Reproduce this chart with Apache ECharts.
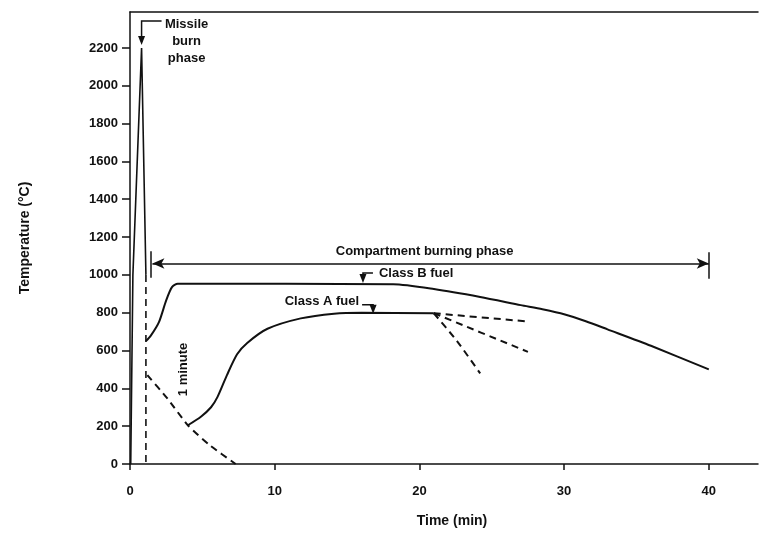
<!DOCTYPE html>
<html>
<head>
    <meta charset="utf-8">
    <script type="text/javascript" src="https://cdn.jsdelivr.net/npm/echarts@6/dist/echarts.min.js"></script>
    <style>
        body { margin: 0; background: #fff; }
    </style>
</head>
<body>
<div id="main" style="width:760px;height:535px"></div>
<script type="text/javascript">
    // values: time in min, temperature in degC
    var spikeTime = [0.05, 0.2, 0.8, 1.1];
    var spikeTemp = [0, 1000, 2200, 1000];

    var oneMinTime = [1.1, 1.1];
    var oneMinTemp = [1000, 0];

    var coolTime = [1.2, 2.6, 4.0, 5.5, 7.3];
    var coolTemp = [470, 345, 205, 100, 0];

    var classBTime = [1.1, 1.45, 2.0, 2.5, 2.9, 3.3, 18.2, 21, 24.2, 27, 28.5, 30, 31.5, 33, 36, 40];
    var classBTemp = [650, 680, 750, 865, 935, 953, 950, 925, 883, 840, 818, 792, 755, 712, 625, 500];

    var classATime = [4.0, 4.9, 5.6, 6.05, 6.7, 7.4, 8.1, 9.5, 11.8, 14.1, 16, 21];
    var classATemp = [205, 250, 300, 355, 470, 580, 640, 715, 770, 795, 800, 797];

    // dashed branches after the Class A plateau
    var branch1Time = [21, 27.3];
    var branch1Temp = [797, 755];
    var branch2Time = [21, 27.5];
    var branch2Temp = [797, 593];
    var branch3Time = [21, 22.6, 24.2];
    var branch3Temp = [797, 650, 479];

    var phaseStart = 1.55, phaseEnd = 40, phaseTemp = 1060;

    var xTicks = [0, 10, 20, 30, 40];

    function pairs(xs, ys) {
        var out = [];
        for (var i = 0; i < xs.length; i++) {
            out.push([xs[i], ys[i]]);
        }
        return out;
    }

    var ink = '#111';
    var font = '"Liberation Sans", Arial, sans-serif';

    function solid(data) {
        return {
            type: 'line', data: data, symbol: 'none', smooth: 0.25, silent: true,
            lineStyle: {color: ink, width: 2}
        };
    }
    function dashed(data) {
        return {
            type: 'line', data: data, symbol: 'none', smooth: 0.2, silent: true,
            lineStyle: {color: ink, width: 2, type: [7, 5]}
        };
    }

    var myChart = echarts.init(document.getElementById('main'));
    var spike = solid(pairs(spikeTime, spikeTemp));
    spike.smooth = false;
    spike.lineStyle.width = 1.6;
    var oneMin = dashed(pairs(oneMinTime, oneMinTemp));
    oneMin.lineStyle.width = 1.6;
    oneMin.smooth = false;

    var classB = solid(pairs(classBTime, classBTemp));
    // compartment burning phase arrow + end bars
    classB.markLine = {
        silent: true,
        symbol: ['arrow', 'arrow'],
        symbolSize: [8, 12],
        label: {show: false},
        lineStyle: {color: ink, width: 1.5, type: 'solid'},
        data: [
            [{coord: [phaseStart, phaseTemp]}, {coord: [phaseEnd, phaseTemp]}],
            [{coord: [phaseStart - 0.1, 985], symbol: 'none'}, {coord: [phaseStart - 0.1, 1125], symbol: 'none'}],
            [{coord: [phaseEnd, 980], symbol: 'none'}, {coord: [phaseEnd, 1120], symbol: 'none'}]
        ]
    };

    var option = {
        animation: false,
        backgroundColor: '#fff',
        textStyle: {fontFamily: font},
        grid: {left: 130, right: 2, top: 12, bottom: 71},
        xAxis: [{
            type: 'value', min: 0, max: 43.4, interval: 10,
            name: 'Time (min)', nameLocation: 'middle', nameGap: 50,
            nameTextStyle: {color: ink, fontSize: 14, fontWeight: 'bold', fontFamily: font, padding: [0, 0, 0, 16]},
            axisLine: {lineStyle: {color: ink, width: 1.5}},
            axisTick: {length: 6, lineStyle: {color: ink, width: 1.5}},
            axisLabel: {
                color: ink, fontSize: 13, fontWeight: 'bold', fontFamily: font, margin: 21,
                showMaxLabel: false,
                formatter: function (v) { return xTicks.indexOf(v) >= 0 ? String(v) : ''; }
            },
            splitLine: {show: false}
        }, {
            type: 'value', position: 'top', min: 0, max: 43.4,
            axisLine: {show: true, lineStyle: {color: ink, width: 1.5}},
            axisTick: {show: false}, axisLabel: {show: false}, splitLine: {show: false}
        }],
        yAxis: {
            type: 'value', min: 0, max: 2390, interval: 200,
            name: 'Temperature (°C)', nameLocation: 'middle', nameGap: 98,
            nameTextStyle: {color: ink, fontSize: 14, fontWeight: 'bold', fontFamily: font},
            axisLine: {show: true, lineStyle: {color: ink, width: 1.5}},
            axisTick: {show: true, length: 8, lineStyle: {color: ink, width: 1.5}},
            axisLabel: {
                color: ink, fontSize: 13, fontWeight: 'bold', fontFamily: font, margin: 12,
                showMaxLabel: false,
                formatter: function (v) { return String(v); }
            },
            splitLine: {show: false}
        },
        series: [
            spike,
            oneMin,
            dashed(pairs(coolTime, coolTemp)),
            classB,
            solid(pairs(classATime, classATemp)),
            dashed(pairs(branch1Time, branch1Temp)),
            dashed(pairs(branch2Time, branch2Temp)),
            dashed(pairs(branch3Time, branch3Temp))
        ]
    };
    myChart.setOption(option);

    // annotations placed from data coordinates
    function px(t, v) {
        return myChart.convertToPixel({gridIndex: 0}, [t, v]);
    }
    function label(text, x, y, align, rot) {
        return {
            type: 'text', x: x, y: y, rotation: rot || 0, silent: true,
            style: {
                text: text, fill: ink, font: 'bold 13px ' + font,
                align: align || 'center', verticalAlign: 'middle'
            }
        };
    }
    function head(x, y) {
        // small arrow head pointing down, tip at (x, y)
        return {
            type: 'polygon', silent: true,
            shape: {points: [[x, y], [x - 3.5, y - 9], [x + 3.5, y - 9]]},
            style: {fill: ink}
        };
    }
    function bracket(points) {
        return {
            type: 'polyline', silent: true,
            shape: {points: points},
            style: {stroke: ink, lineWidth: 1.5, fill: null}
        };
    }

    var peak = px(spikeTime[2], spikeTemp[2]);
    var bTip = px(16.1, 952);
    var aTip = px(16.8, 800);
    var minute = px(3.7, 500);
    var phaseLbl = px((phaseStart + phaseEnd) / 2, phaseTemp);

    var g = [];
    g.push(bracket([[peak[0] + 20, peak[1] - 27], [peak[0], peak[1] - 27], [peak[0], peak[1] - 6]]));
    g.push(head(peak[0], peak[1] - 3));
    g.push(label('Missile', peak[0] + 45, peak[1] - 24));
    g.push(label('burn', peak[0] + 45, peak[1] - 7));
    g.push(label('phase', peak[0] + 45, peak[1] + 10));

    g.push(label('Compartment burning phase', phaseLbl[0] - 6, phaseLbl[1] - 12));

    g.push(bracket([[bTip[0] + 10, bTip[1] - 11], [bTip[0], bTip[1] - 11], [bTip[0], bTip[1] - 6]]));
    g.push(head(bTip[0], bTip[1] - 1));
    g.push(label('Class B fuel', bTip[0] + 16, bTip[1] - 11, 'left'));

    g.push(bracket([[aTip[0] - 11, aTip[1] - 8], [aTip[0], aTip[1] - 8], [aTip[0], aTip[1] - 4]]));
    g.push(head(aTip[0], aTip[1] + 1));
    g.push(label('Class A fuel', aTip[0] - 14, aTip[1] - 11, 'right'));

    g.push(label('1 minute', minute[0], minute[1], 'center', Math.PI / 2));

    myChart.setOption({graphic: g});
</script>
</body>
</html>
